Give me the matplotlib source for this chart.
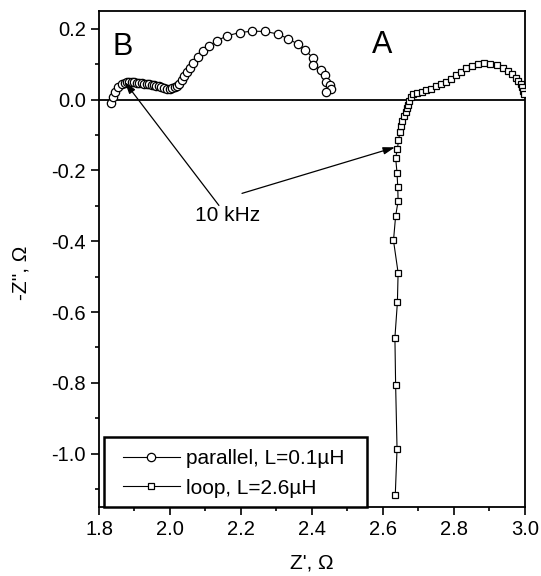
import matplotlib
matplotlib.use("Agg")
import matplotlib.pyplot as plt
from matplotlib.ticker import MultipleLocator
from matplotlib.patches import Rectangle
from matplotlib.legend_handler import HandlerLine2D

plt.rcParams["font.family"] = ["Liberation Sans", "DejaVu Sans"]

# ── data ─────────────────────────────────────────────────────────────────────
par_re = [1.833, 1.839, 1.845, 1.854, 1.864, 1.872, 1.878, 1.885, 1.892, 1.899,
          1.906, 1.913, 1.920, 1.927, 1.934, 1.941, 1.948, 1.955, 1.962, 1.969,
          1.976, 1.983, 1.991, 1.999, 2.006, 2.013, 2.019, 2.026, 2.033, 2.040,
          2.047, 2.056, 2.066, 2.080, 2.094, 2.111, 2.133, 2.161, 2.197, 2.232,
          2.268, 2.304, 2.334, 2.361, 2.382, 2.404, 2.404, 2.427, 2.437, 2.441,
          2.451, 2.455, 2.441]
par_im = [-0.011, 0.006, 0.021, 0.034, 0.043, 0.047, 0.049, 0.050, 0.050, 0.049,
          0.048, 0.047, 0.046, 0.045, 0.044, 0.043, 0.042, 0.040, 0.039, 0.037,
          0.035, 0.033, 0.031, 0.031, 0.032, 0.034, 0.038, 0.045, 0.055, 0.066,
          0.078, 0.090, 0.102, 0.120, 0.137, 0.152, 0.166, 0.180, 0.189, 0.193,
          0.192, 0.185, 0.171, 0.156, 0.139, 0.116, 0.097, 0.083, 0.069, 0.050,
          0.040, 0.031, 0.021]

loop_re = [2.635, 2.640, 2.636, 2.634, 2.641, 2.643, 2.630, 2.636, 2.643, 2.642,
           2.640, 2.636, 2.641, 2.644, 2.648, 2.651, 2.654, 2.660, 2.664, 2.667,
           2.670, 2.673, 2.679, 2.685, 2.695, 2.709, 2.723, 2.737, 2.751, 2.765,
           2.779, 2.793, 2.807, 2.821, 2.835, 2.850, 2.867, 2.885, 2.903, 2.922,
           2.939, 2.953, 2.964, 2.975, 2.981, 2.988, 2.993, 2.995, 2.998]
loop_im = [-1.117, -0.986, -0.805, -0.672, -0.573, -0.489, -0.398, -0.329, -0.287, -0.247,
           -0.208, -0.164, -0.141, -0.115, -0.092, -0.076, -0.060, -0.047, -0.035, -0.025,
           -0.016, -0.005, 0.007, 0.015, 0.019, 0.021, 0.028, 0.031, 0.038, 0.045,
           0.050, 0.057, 0.069, 0.078, 0.088, 0.094, 0.099, 0.102, 0.100, 0.096,
           0.089, 0.081, 0.072, 0.062, 0.053, 0.043, 0.034, 0.024, 0.015]

# ── figure ───────────────────────────────────────────────────────────────────
fig = plt.figure(figsize=(5.41, 5.76), dpi=100)
ax = fig.add_axes([0.183, 0.120, 0.787, 0.861])

ax.axhline(0, color="black", lw=1.3, zorder=1)

ax.plot(par_re, par_im, color="black", lw=0.8, marker="o", ms=6,
        mfc="white", mec="black", mew=0.9, label="parallel, L=0.1\u00b5H", zorder=3)
ax.plot(loop_re, loop_im, color="black", lw=0.8, marker="s", ms=5,
        mfc="white", mec="black", mew=0.9, label="loop, L=2.6\u00b5H", zorder=3)

ax.set_xlim(1.8, 3.0)
ax.set_ylim(-1.15, 0.25)
ax.xaxis.set_major_locator(MultipleLocator(0.2))
ax.xaxis.set_minor_locator(MultipleLocator(0.1))
ax.yaxis.set_major_locator(MultipleLocator(0.2))
ax.yaxis.set_minor_locator(MultipleLocator(0.1))
ax.xaxis.set_major_formatter(plt.FuncFormatter(lambda v, _: f"{v:.1f}"))
ax.yaxis.set_major_formatter(plt.FuncFormatter(lambda v, _: f"{v:.1f}".replace("-0.0", "0.0")))
ax.tick_params(which="both", direction="out", labelsize=14.5, width=1.2, pad=4)
ax.tick_params(which="major", length=5.5)
ax.tick_params(which="minor", length=3)
for s in ax.spines.values():
    s.set_linewidth(1.3)

ax.set_xlabel("Z', \u03a9", fontsize=15)
ax.set_ylabel("-Z'', \u03a9", fontsize=15)
ax.xaxis.set_label_coords(0.5, -0.093)
ax.yaxis.set_label_coords(-0.162, 0.472)

# ── annotations ──────────────────────────────────────────────────────────────
ax.text(1.837, 0.125, "B", fontsize=22, ha="left", va="baseline")
ax.text(2.569, 0.131, "A", fontsize=22, ha="left", va="baseline")
ax.text(2.163, -0.328, "10 kHz", fontsize=15, ha="center", va="center")
arrow = dict(arrowstyle="-|>,head_length=0.7,head_width=0.22", color="black", lw=0.9,
             shrinkA=0, shrinkB=0)
ax.annotate("", xy=(1.873, 0.049), xytext=(2.138, -0.299), arrowprops=arrow)
ax.annotate("", xy=(2.634, -0.135), xytext=(2.203, -0.265), arrowprops=arrow)

# ── legend (box drawn separately for the wider side padding) ─────────────────
ax.add_patch(Rectangle((0.012, 0.0), 0.617, 0.141, transform=ax.transAxes,
                       facecolor="white", edgecolor="black", lw=1.8, zorder=4,
                       clip_on=False))
leg = ax.legend(loc="lower left", bbox_to_anchor=(0.034, 0.0), fontsize=15,
                frameon=False, borderaxespad=0, handlelength=2.75,
                handletextpad=0.3, borderpad=0.45, labelspacing=0.5)
leg.set_zorder(5)

fig.savefig("out.png", dpi=100)
